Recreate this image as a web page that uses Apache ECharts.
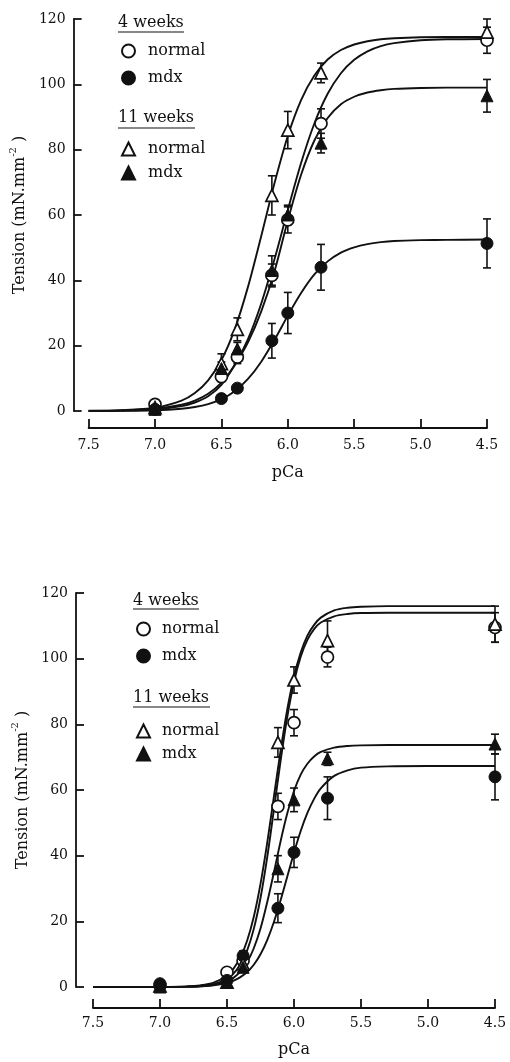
<!DOCTYPE html>
<html>
<head>
<meta charset="utf-8">
<script src="https://cdn.jsdelivr.net/npm/echarts@6/dist/echarts.min.js"></script>
<style>
html,body{margin:0;padding:0;background:#fff;}
#chart{width:510px;height:1062px;}
</style>
</head>
<body>
<div id="chart"></div>
<script>
// ---------- DATA ----------
const xTicks = [7.5, 7.0, 6.5, 6.0, 5.5, 5.0, 4.5];
const yTicks = [0, 20, 40, 60, 80, 100, 120];
const pCaPoints = [7.0, 6.5, 6.38, 6.12, 6.0, 5.75, 4.5];

// Top panel: measured means and SEM
const topNormal4 = [2, 10.5, 16.5, 41.5, 58.5, 88, 113.5];
const topNormal4Err = [0, 1.5, 2, 3.5, 4, 4.5, 4];
const topMdx4 = [0.5, 3.8, 7, 21.5, 30, 44, 51.3];
const topMdx4Err = [0, 0, 0, 5.3, 6.3, 7, 7.5];
const topNormal11 = [1, 14.5, 25, 66, 86, 103.5, 116];
const topNormal11Err = [0, 3, 3.5, 6, 5.7, 3, 4];
const topMdx11 = [0.5, 13, 19, 43, 60, 82, 96.5];
const topMdx11Err = [0, 2, 2, 4.5, 3, 3, 5];

// Top panel: fitted curves
const topCurvePCa = [7.5, 7.25, 7.0, 6.8, 6.7, 6.6, 6.5, 6.4, 6.3, 6.2, 6.1, 6.0, 5.9, 5.8, 5.7, 5.6, 5.5, 5.4, 5.3, 5.2, 5.0, 4.8, 4.5];
const topCurveNormal4 = [0.05, 0.18, 0.67, 1.9, 3.2, 5.3, 8.7, 14.1, 22.0, 32.9, 46.5, 61.5, 75.9, 88.0, 97.1, 103.4, 107.5, 110.1, 111.7, 112.6, 113.5, 113.8, 113.9];
const topCurveNormal11 = [0.06, 0.25, 1.0, 3.2, 5.5, 9.4, 15.6, 25.0, 38.0, 53.6, 69.8, 84.2, 95.2, 102.7, 107.6, 110.5, 112.2, 113.2, 113.8, 114.1, 114.4, 114.5, 114.5];
const topCurveMdx11 = [0.02, 0.1, 0.5, 1.5, 2.6, 4.5, 8, 14, 21, 30.5, 42.8, 58.3, 72.3, 82.8, 89.7, 93.9, 96.2, 97.5, 98.2, 98.6, 98.9, 99.0, 99.0];
const topCurveMdx4 = [0.01, 0.06, 0.23, 0.7, 1.22, 2.11, 3.61, 6.04, 9.8, 15.1, 21.8, 29.2, 36.1, 41.8, 45.8, 48.5, 50.1, 51.1, 51.7, 52.05, 52.3, 52.4, 52.5];

// Bottom panel: measured means and SEM
const botNormal4 = [0.5, 4.5, 8, 55, 80.5, 100.5, 109.5];
const botNormal4Err = [0, 1, 1.5, 4, 4, 3, 4.5];
const botMdx4 = [1, 2, 9.5, 24, 41, 57.5, 64];
const botMdx4Err = [0, 0, 1.5, 4.4, 4.6, 6.5, 7];
const botNormal11 = [0.3, 1.5, 7, 74.5, 93.5, 105.5, 110.5];
const botNormal11Err = [0, 0, 1.5, 4.5, 4, 6, 5.5];
const botMdx11 = [0, 1.5, 6, 36, 57, 69.5, 74];
const botMdx11Err = [0, 0, 1, 4, 3.6, 2, 3];

// Bottom panel: fitted curves
const botCurvePCa = [7.5, 7.25, 7.0, 6.8, 6.7, 6.6, 6.5, 6.45, 6.4, 6.35, 6.3, 6.25, 6.2, 6.15, 6.1, 6.05, 6.0, 5.95, 5.9, 5.85, 5.8, 5.7, 5.6, 5.5, 5.3, 5.0, 4.5];
const botCurveNormalA = [0, 0, 0.03, 0.19, 0.5, 1.33, 3.52, 5.66, 9.0, 14.1, 21.4, 31.4, 43.9, 58.0, 72.0, 84.6, 94.6, 101.9, 107.0, 110.3, 112.5, 114.7, 115.5, 115.8, 116, 116, 116];
const botCurveNormalB = [0, 0, 0.01, 0.1, 0.3, 0.87, 2.46, 4.12, 6.83, 11.1, 17.7, 27.1, 39.5, 54.0, 68.9, 82.3, 92.9, 100.6, 105.7, 109.0, 111.0, 112.9, 113.6, 113.9, 114, 114, 114];
const botCurveMdx11 = [0, 0, 0.01, 0.08, 0.22, 0.62, 1.73, 2.86, 4.66, 7.51, 11.8, 17.8, 25.8, 34.9, 44.4, 52.9, 59.7, 64.7, 68.0, 70.2, 71.6, 72.9, 73.4, 73.6, 73.7, 73.7, 73.7];
const botCurveMdx4 = [0, 0, 0.02, 0.1, 0.23, 0.54, 1.29, 1.97, 3.0, 4.55, 6.79, 9.97, 14.3, 19.8, 26.4, 33.65, 40.9, 47.5, 53.0, 57.3, 60.5, 64.3, 66.0, 66.8, 67.2, 67.3, 67.3];

const seriesNames = ['4 weeks normal', '4 weeks mdx', '11 weeks normal', '11 weeks mdx'];
const legendLabels = ['normal', 'mdx'];
const groupTitles = ['4 weeks', '11 weeks'];
const xTitle = 'pCa';

// ---------- STYLE ----------
const FONT = 'DejaVu Serif';
const INK = '#111';

const markerStyles = [
  { symbol: 'circle', itemStyle: { color: '#fff', borderColor: INK, borderWidth: 1.7, opacity: 1 } },
  { symbol: 'circle', itemStyle: { color: INK, borderColor: INK, borderWidth: 1, opacity: 1 } },
  { symbol: 'triangle', itemStyle: { color: '#fff', borderColor: INK, borderWidth: 1.7, opacity: 1 } },
  { symbol: 'triangle', itemStyle: { color: INK, borderColor: INK, borderWidth: 1, opacity: 1 } }
];

function zip(xs, ys) { return xs.map((x, i) => [x, ys[i]]); }
function zip3(xs, ys, es) { return xs.map((x, i) => [x, ys[i], es[i]]); }

function errRender(params, api) {
  const x = api.value(0), y = api.value(1), e = api.value(2);
  if (!e) return null;
  const hi = api.coord([x, y + e]);
  const lo = api.coord([x, y - e]);
  const w = 4;
  const st = { stroke: INK, lineWidth: 1.6 };
  return {
    type: 'group',
    children: [
      { type: 'line', shape: { x1: hi[0], y1: hi[1], x2: lo[0], y2: lo[1] }, style: st },
      { type: 'line', shape: { x1: hi[0] - w, y1: hi[1], x2: hi[0] + w, y2: hi[1] }, style: st },
      { type: 'line', shape: { x1: lo[0] - w, y1: lo[1], x2: lo[0] + w, y2: lo[1] }, style: st }
    ]
  };
}

function panelSeries(idx, means, errs, curveX, curves) {
  const out = [];
  curves.forEach(c => {
    out.push({
      type: 'line', xAxisIndex: idx, yAxisIndex: idx,
      data: zip(curveX, c), showSymbol: false, symbol: 'none',
      smooth: 0.3,
      lineStyle: { color: INK, width: 1.9 }, silent: true, z: 2
    });
  });
  means.forEach((m, k) => {
    out.push({
      type: 'custom', xAxisIndex: idx, yAxisIndex: idx,
      renderItem: errRender, data: zip3(pCaPoints, m, errs[k]),
      encode: { x: 0, y: 1 }, z: 3, silent: true
    });
  });
  means.forEach((m, k) => {
    out.push(Object.assign({
      type: 'scatter', name: seriesNames[k], xAxisIndex: idx, yAxisIndex: idx,
      data: zip(pCaPoints, m), symbolSize: 12, z: 4
    }, markerStyles[k]));
  });
  return out;
}

function xAxisCfg(idx, offset, margin, gap) {
  return {
    type: 'value', gridIndex: idx, min: 4.5, max: 7.5, interval: 0.5, inverse: true,
    offset: offset,
    axisLine: { show: true, onZero: false, lineStyle: { color: INK, width: 1.8 } },
    axisTick: { show: true, inside: true, length: 9, lineStyle: { color: INK, width: 1.8 } },
    axisLabel: { color: INK, fontFamily: FONT, fontSize: 14, margin: margin, formatter: v => v.toFixed(1) },
    splitLine: { show: false },
    name: xTitle, nameLocation: 'middle', nameGap: gap,
    nameTextStyle: { color: INK, fontFamily: FONT, fontSize: 16 }
  };
}
function yAxisCfg(idx, offset, gap) {
  return {
    type: 'value', gridIndex: idx, min: 0, max: 120, interval: 20,
    offset: offset,
    axisLine: { show: true, lineStyle: { color: INK, width: 1.8 } },
    axisTick: { show: true, inside: true, length: 8, lineStyle: { color: INK, width: 1.8 } },
    axisLabel: { color: INK, fontFamily: FONT, fontSize: 14, margin: 8 },
    splitLine: { show: false },
    name: '{a|Tension (mN.mm}{s|-2}{a| )}', nameLocation: 'middle', nameGap: gap, nameRotate: 90,
    nameTextStyle: {
      color: INK, fontFamily: FONT, fontSize: 16,
      rich: {
        a: { fontFamily: FONT, fontSize: 16, color: INK, lineHeight: 20, verticalAlign: 'bottom' },
        s: { fontFamily: FONT, fontSize: 10, color: INK, lineHeight: 20, verticalAlign: 'top' }
      }
    }
  };
}

function legendCfg(names, left, top, gap, pad) {
  return {
    orient: 'vertical', left: left, top: top,
    data: names, itemWidth: 13, itemHeight: 13, itemGap: gap,
    textStyle: { color: INK, fontFamily: FONT, fontSize: 16, lineHeight: 20, padding: [0, 0, 0, pad] },
    formatter: n => legendLabels[seriesNames.indexOf(n) % 2],
    selectedMode: false
  };
}

function headerGraphics(x, y1, y2, under1, under2) {
  const items = [];
  [[groupTitles[0], y1, under1, 66], [groupTitles[1], y2, under2, 77]].forEach(([t, y, u, w]) => {
    items.push({ type: 'text', x: x, y: y, style: { text: t, font: '16px "' + FONT + '"', fill: INK, textVerticalAlign: 'middle' } });
    items.push({ type: 'line', shape: { x1: x, y1: u, x2: x + w, y2: u }, style: { stroke: INK, lineWidth: 1.2 } });
  });
  return items;
}

const option = {
  backgroundColor: '#fff',
  animation: false,
  grid: [
    { left: 85, width: 402, top: 19, height: 392, containLabel: false },
    { left: 93, width: 402, top: 593, height: 394, containLabel: false }
  ],
  xAxis: [xAxisCfg(0, 17, 10, 37), xAxisCfg(1, 21, 8, 34)],
  yAxis: [yAxisCfg(0, 15, 36), yAxisCfg(1, 17, 43)],
  legend: [
    legendCfg(seriesNames.slice(0, 2), 116, 36, 7, 8),
    legendCfg(seriesNames.slice(2, 4), 116, 134, 4, 8),
    legendCfg(seriesNames.slice(0, 2), 131, 614, 7, 7),
    legendCfg(seriesNames.slice(2, 4), 131, 716, 3, 7)
  ],
  graphic: headerGraphics(118, 23, 118, 32, 128).concat(headerGraphics(133, 601, 698, 609, 707)),
  series: [].concat(
    panelSeries(0, [topNormal4, topMdx4, topNormal11, topMdx11],
      [topNormal4Err, topMdx4Err, topNormal11Err, topMdx11Err],
      topCurvePCa, [topCurveNormal4, topCurveNormal11, topCurveMdx11, topCurveMdx4]),
    panelSeries(1, [botNormal4, botMdx4, botNormal11, botMdx11],
      [botNormal4Err, botMdx4Err, botNormal11Err, botMdx11Err],
      botCurvePCa, [botCurveNormalA, botCurveNormalB, botCurveMdx11, botCurveMdx4])
  )
};

const chart = echarts.init(document.getElementById('chart'), null, { renderer: 'canvas' });
chart.setOption(option);
</script>
</body>
</html>
